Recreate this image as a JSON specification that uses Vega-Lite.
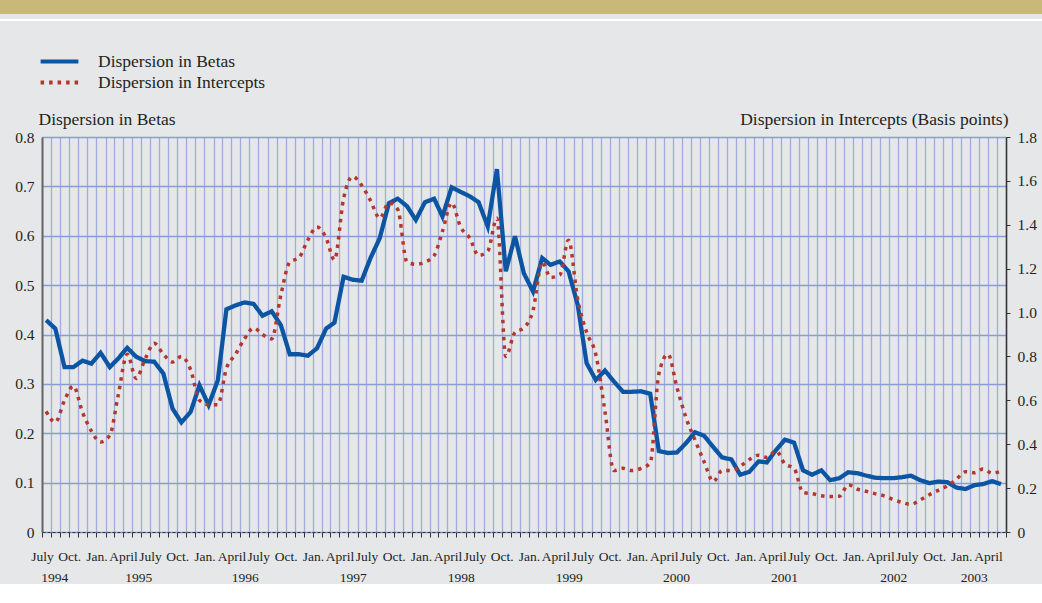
{
  "$schema": "https://vega.github.io/schema/vega-lite/v6.json",
  "padding": 0,
  "background": "#e6e7e9",
  "spacing": 0,
  "config": {
    "font": "Liberation Serif, serif",
    "view": {"stroke": null},
    "axis": {"labelFont": "Liberation Serif, serif", "titleFont": "Liberation Serif, serif", "labelColor": "#231f20", "titleColor": "#231f20", "titleFontWeight": "normal"},
    "legend": {"labelFont": "Liberation Serif, serif", "labelColor": "#231f20"}
  },
  "datasets": {
    "d": [
      {"date": "1994/07/15", "betas": 0.429, "intercepts": 0.55},
      {"date": "1994/08/15", "betas": 0.412, "intercepts": 0.50},
      {"date": "1994/09/15", "betas": 0.334, "intercepts": 0.60},
      {"date": "1994/10/15", "betas": 0.334, "intercepts": 0.665},
      {"date": "1994/11/15", "betas": 0.347, "intercepts": 0.545},
      {"date": "1994/12/15", "betas": 0.341, "intercepts": 0.46},
      {"date": "1995/01/15", "betas": 0.363, "intercepts": 0.41},
      {"date": "1995/02/15", "betas": 0.334, "intercepts": 0.44},
      {"date": "1995/03/15", "betas": 0.351, "intercepts": 0.62},
      {"date": "1995/04/15", "betas": 0.373, "intercepts": 0.81},
      {"date": "1995/05/15", "betas": 0.355, "intercepts": 0.70},
      {"date": "1995/06/15", "betas": 0.346, "intercepts": 0.79},
      {"date": "1995/07/15", "betas": 0.345, "intercepts": 0.86},
      {"date": "1995/08/15", "betas": 0.321, "intercepts": 0.81},
      {"date": "1995/09/15", "betas": 0.25, "intercepts": 0.775},
      {"date": "1995/10/15", "betas": 0.222, "intercepts": 0.80},
      {"date": "1995/11/15", "betas": 0.243, "intercepts": 0.74},
      {"date": "1995/12/15", "betas": 0.297, "intercepts": 0.60},
      {"date": "1996/01/15", "betas": 0.257, "intercepts": 0.58},
      {"date": "1996/02/15", "betas": 0.307, "intercepts": 0.58},
      {"date": "1996/03/15", "betas": 0.451, "intercepts": 0.745},
      {"date": "1996/04/15", "betas": 0.459, "intercepts": 0.81},
      {"date": "1996/05/15", "betas": 0.465, "intercepts": 0.88},
      {"date": "1996/06/15", "betas": 0.462, "intercepts": 0.93},
      {"date": "1996/07/15", "betas": 0.438, "intercepts": 0.90},
      {"date": "1996/08/15", "betas": 0.447, "intercepts": 0.88},
      {"date": "1996/09/15", "betas": 0.419, "intercepts": 1.08},
      {"date": "1996/10/15", "betas": 0.36, "intercepts": 1.23},
      {"date": "1996/11/15", "betas": 0.36, "intercepts": 1.25},
      {"date": "1996/12/15", "betas": 0.357, "intercepts": 1.33},
      {"date": "1997/01/15", "betas": 0.372, "intercepts": 1.39},
      {"date": "1997/02/15", "betas": 0.412, "intercepts": 1.34},
      {"date": "1997/03/15", "betas": 0.424, "intercepts": 1.24},
      {"date": "1997/04/15", "betas": 0.517, "intercepts": 1.52},
      {"date": "1997/05/15", "betas": 0.511, "intercepts": 1.62},
      {"date": "1997/06/15", "betas": 0.509, "intercepts": 1.58},
      {"date": "1997/07/15", "betas": 0.555, "intercepts": 1.51},
      {"date": "1997/08/15", "betas": 0.595, "intercepts": 1.43},
      {"date": "1997/09/15", "betas": 0.666, "intercepts": 1.50},
      {"date": "1997/10/15", "betas": 0.675, "intercepts": 1.47},
      {"date": "1997/11/15", "betas": 0.66, "intercepts": 1.23},
      {"date": "1997/12/15", "betas": 0.632, "intercepts": 1.22},
      {"date": "1998/01/15", "betas": 0.668, "intercepts": 1.23},
      {"date": "1998/02/15", "betas": 0.675, "intercepts": 1.26},
      {"date": "1998/03/15", "betas": 0.639, "intercepts": 1.37},
      {"date": "1998/04/15", "betas": 0.698, "intercepts": 1.50},
      {"date": "1998/05/15", "betas": 0.689, "intercepts": 1.39},
      {"date": "1998/06/15", "betas": 0.68, "intercepts": 1.34},
      {"date": "1998/07/15", "betas": 0.668, "intercepts": 1.26},
      {"date": "1998/08/15", "betas": 0.619, "intercepts": 1.28},
      {"date": "1998/09/15", "betas": 0.735, "intercepts": 1.43},
      {"date": "1998/10/15", "betas": 0.528, "intercepts": 0.80},
      {"date": "1998/11/15", "betas": 0.599, "intercepts": 0.91},
      {"date": "1998/12/15", "betas": 0.524, "intercepts": 0.93},
      {"date": "1999/01/15", "betas": 0.487, "intercepts": 1.01},
      {"date": "1999/02/15", "betas": 0.555, "intercepts": 1.23},
      {"date": "1999/03/15", "betas": 0.541, "intercepts": 1.16},
      {"date": "1999/04/15", "betas": 0.548, "intercepts": 1.17},
      {"date": "1999/05/15", "betas": 0.528, "intercepts": 1.33},
      {"date": "1999/06/15", "betas": 0.46, "intercepts": 1.06},
      {"date": "1999/07/15", "betas": 0.342, "intercepts": 0.91},
      {"date": "1999/08/15", "betas": 0.308, "intercepts": 0.81},
      {"date": "1999/09/15", "betas": 0.327, "intercepts": 0.55},
      {"date": "1999/10/15", "betas": 0.305, "intercepts": 0.28},
      {"date": "1999/11/15", "betas": 0.284, "intercepts": 0.29},
      {"date": "1999/12/15", "betas": 0.284, "intercepts": 0.28},
      {"date": "2000/01/15", "betas": 0.285, "intercepts": 0.29},
      {"date": "2000/02/15", "betas": 0.28, "intercepts": 0.315},
      {"date": "2000/03/15", "betas": 0.164, "intercepts": 0.72},
      {"date": "2000/04/15", "betas": 0.16, "intercepts": 0.81},
      {"date": "2000/05/15", "betas": 0.161, "intercepts": 0.66},
      {"date": "2000/06/15", "betas": 0.18, "intercepts": 0.52},
      {"date": "2000/07/15", "betas": 0.202, "intercepts": 0.42},
      {"date": "2000/08/15", "betas": 0.195, "intercepts": 0.32},
      {"date": "2000/09/15", "betas": 0.172, "intercepts": 0.23},
      {"date": "2000/10/15", "betas": 0.151, "intercepts": 0.28},
      {"date": "2000/11/15", "betas": 0.147, "intercepts": 0.28},
      {"date": "2000/12/15", "betas": 0.116, "intercepts": 0.30},
      {"date": "2001/01/15", "betas": 0.122, "intercepts": 0.33},
      {"date": "2001/02/15", "betas": 0.143, "intercepts": 0.35},
      {"date": "2001/03/15", "betas": 0.141, "intercepts": 0.34},
      {"date": "2001/04/15", "betas": 0.166, "intercepts": 0.37},
      {"date": "2001/05/15", "betas": 0.187, "intercepts": 0.31},
      {"date": "2001/06/15", "betas": 0.181, "intercepts": 0.29},
      {"date": "2001/07/15", "betas": 0.125, "intercepts": 0.18},
      {"date": "2001/08/15", "betas": 0.116, "intercepts": 0.175},
      {"date": "2001/09/15", "betas": 0.125, "intercepts": 0.165},
      {"date": "2001/10/15", "betas": 0.105, "intercepts": 0.162},
      {"date": "2001/11/15", "betas": 0.109, "intercepts": 0.163},
      {"date": "2001/12/15", "betas": 0.121, "intercepts": 0.215},
      {"date": "2002/01/15", "betas": 0.119, "intercepts": 0.195},
      {"date": "2002/02/15", "betas": 0.114, "intercepts": 0.185},
      {"date": "2002/03/15", "betas": 0.11, "intercepts": 0.175},
      {"date": "2002/04/15", "betas": 0.109, "intercepts": 0.165},
      {"date": "2002/05/15", "betas": 0.109, "intercepts": 0.148},
      {"date": "2002/06/15", "betas": 0.111, "intercepts": 0.135},
      {"date": "2002/07/15", "betas": 0.114, "intercepts": 0.126},
      {"date": "2002/08/15", "betas": 0.105, "intercepts": 0.146},
      {"date": "2002/09/15", "betas": 0.099, "intercepts": 0.17},
      {"date": "2002/10/15", "betas": 0.102, "intercepts": 0.19},
      {"date": "2002/11/15", "betas": 0.101, "intercepts": 0.21},
      {"date": "2002/12/15", "betas": 0.09, "intercepts": 0.24},
      {"date": "2003/01/15", "betas": 0.087, "intercepts": 0.275},
      {"date": "2003/02/15", "betas": 0.095, "intercepts": 0.27},
      {"date": "2003/03/15", "betas": 0.097, "intercepts": 0.287},
      {"date": "2003/04/15", "betas": 0.103, "intercepts": 0.268},
      {"date": "2003/05/15", "betas": 0.097, "intercepts": 0.277}
    ]
  },
  "vconcat": [
    {
      "width": 1042, "height": 14,
      "view": {"fill": "#c8b97b", "stroke": null},
      "data": {"values": [{}]},
      "mark": {"type": "text"},
      "encoding": {"text": {"value": ""}}
    },
    {
      "width": 1042, "height": 2,
      "view": {"fill": "#ffffff", "stroke": null},
      "data": {"values": [{}]},
      "mark": {"type": "text"},
      "encoding": {"text": {"value": ""}}
    },
    {
      "width": 1, "height": 85,
      "view": {"stroke": null},
      "data": {"values": [{}]},
      "mark": {"type": "text"},
      "encoding": {"text": {"value": ""}}
    },
    {
      "spacing": 13,
      "hconcat": [
        {
          "width": 1, "height": 1,
          "view": {"stroke": null},
          "data": {"values": [{}]},
          "mark": {"type": "text"},
          "encoding": {"text": {"value": ""}}
        },
        {
          "width": 964,
          "height": 395,
          "view": {"stroke": null},
          "data": {"name": "d"},
          "layer": [
            {
              "mark": {"type": "line", "strokeWidth": 4.3, "strokeJoin": "miter"},
              "encoding": {
                "x": {
                  "field": "date", "type": "temporal",
                  "scale": {"domain": [{"year": 1994, "month": 7, "date": 1}, {"year": 2003, "month": 6, "date": 1}], "nice": false},
                  "axis": {
                    "title": null,
                    "orient": "bottom",
                    "tickCount": {"interval": "month", "step": 1},
                    "grid": true, "gridColor": "#a0addb", "gridWidth": 1.3,
                    "ticks": true, "tickSize": 5, "tickColor": "#333333", "tickWidth": 1,
                    "domain": true, "domainColor": "#333333", "domainDash": [3, 2], "domainWidth": 1.2,
                    "labelExpr": "month(datum.value)==6?'July':month(datum.value)==9?'Oct.':month(datum.value)==0?'Jan.':month(datum.value)==3?'April':''",
                    "labelFontSize": 13.5, "labelPadding": 12, "labelOverlap": false, "labelFlush": false, "labelBaseline": "top"
                  }
                },
                "y": {
                  "field": "betas", "type": "quantitative",
                  "scale": {"domain": [0, 0.8], "nice": false, "zero": true},
                  "axis": {
                    "orient": "left",
                    "values": [0, 0.1, 0.2, 0.3, 0.4, 0.5, 0.6, 0.7, 0.8],
                    "labelExpr": "datum.value == 0 ? '0' : format(datum.value, '.1f')",
                    "labelFontSize": 15.5, "labelPadding": 8,
                    "ticks": false,
                    "domain": true, "domainColor": "#666666", "domainWidth": 2,
                    "grid": true, "gridColor": "#8b9bd4", "gridWidth": 1.3,
                    "title": "Dispersion in Betas",
                    "titleAngle": 0, "titleAlign": "left", "titleBaseline": "alphabetic",
                    "titleX": -4, "titleY": -13, "titleFontSize": 17.5
                  }
                },
                "color": {
                  "datum": "Dispersion in Betas",
                  "scale": {"domain": ["Dispersion in Betas", "Dispersion in Intercepts"], "range": ["#0b55a3", "#b5372c"]},
                  "legend": {
                    "orient": "none", "legendX": 47, "legendY": 49, "title": null, "direction": "vertical",
                    "symbolType": "M-1.8,0H1.8", "symbolSize": 441, "symbolStrokeWidth": 4,
                    "labelFontSize": 17.5, "labelOffset": 26, "labelLimit": 500, "rowPadding": 0, "padding": 0
                  }
                },
                "strokeDash": {
                  "datum": "Dispersion in Betas",
                  "scale": {"domain": ["Dispersion in Betas", "Dispersion in Intercepts"], "range": [[1, 0], [3.5, 5]]},
                  "legend": {
                    "orient": "none", "legendX": 47, "legendY": 49, "title": null, "direction": "vertical",
                    "symbolType": "M-1.8,0H1.8", "symbolSize": 441, "symbolStrokeWidth": 4,
                    "labelFontSize": 17.5, "labelOffset": 26, "labelLimit": 500, "rowPadding": 0, "padding": 0
                  }
                }
              }
            },
            {
              "mark": {"type": "line", "strokeWidth": 3.5, "interpolate": "monotone"},
              "encoding": {
                "x": {
                  "field": "date", "type": "temporal",
                  "axis": {
                    "title": null,
                    "orient": "bottom",
                    "values": [
                      {"year": 1994, "month": 8, "date": 11},
                      {"year": 1995, "month": 5, "date": 22},
                      {"year": 1996, "month": 5, "date": 16},
                      {"year": 1997, "month": 5, "date": 16},
                      {"year": 1998, "month": 5, "date": 16},
                      {"year": 1999, "month": 5, "date": 16},
                      {"year": 2000, "month": 5, "date": 12},
                      {"year": 2001, "month": 5, "date": 12},
                      {"year": 2002, "month": 5, "date": 16},
                      {"year": 2003, "month": 2, "date": 12}
                    ],
                    "labelExpr": "timeFormat(datum.value, '%Y')",
                    "grid": false, "ticks": false, "domain": false,
                    "labelFontSize": 13.5, "labelPadding": 38, "labelOverlap": false, "labelFlush": false, "labelBaseline": "top"
                  }
                },
                "y": {
                  "field": "intercepts", "type": "quantitative",
                  "scale": {"domain": [0, 1.8], "nice": false, "zero": true},
                  "axis": {
                    "orient": "right",
                    "values": [0, 0.2, 0.4, 0.6, 0.8, 1.0, 1.2, 1.4, 1.6, 1.8],
                    "labelExpr": "datum.value == 0 ? '0' : format(datum.value, '.1f')",
                    "labelFontSize": 15.5, "labelPadding": 7,
                    "ticks": true, "tickSize": 4, "tickColor": "#333333",
                    "domain": true, "domainColor": "#333333", "domainWidth": 1.5,
                    "grid": false,
                    "title": "Dispersion in Intercepts (Basis points)",
                    "titleAngle": 0, "titleAlign": "right", "titleBaseline": "alphabetic",
                    "titleX": 2, "titleY": -13, "titleFontSize": 17.5
                  }
                },
                "color": {"datum": "Dispersion in Intercepts"},
                "strokeDash": {"datum": "Dispersion in Intercepts"}
              }
            }
          ],
          "resolve": {"scale": {"y": "independent"}, "axis": {"x": "independent"}}
        }
      ]
    }
  ]
}
